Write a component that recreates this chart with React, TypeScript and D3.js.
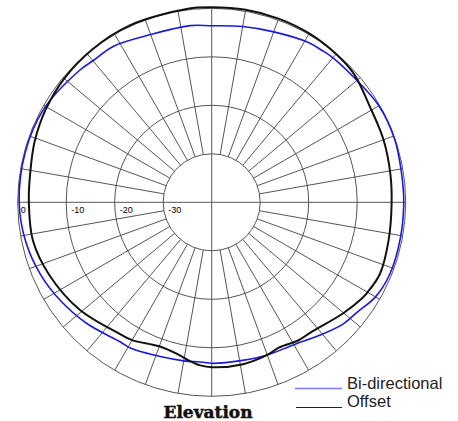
import React from 'react';
import * as d3 from 'd3';

const W = 458;
const H = 421;

// Ring levels (dB) and their labels
const ringLevels = [-30, -20, -10, 0];
const ringLabels = ['-30', '-20', '-10', '0'];

// Bi-directional series: angle (deg, clockwise from top) and level (dB)
const biAngles = [0, 10, 20, 31, 36, 40, 48, 60, 71, 81, 90, 101, 112, 120, 127, 133, 141, 150, 160, 169, 180, 184, 190, 198, 209, 213, 226, 237, 247, 258, 270, 285, 299, 315, 320, 328, 340, 353];
const biValues = [-3.6, -3.2, -2.6, -1.5, -1.3, -1.1, -1.0, -0.2, -0.1, -0.4, -0.4, -0.4, -0.4, -1.0, -2.4, -3.1, -4.7, -6.1, -6.5, -6.8, -6.8, -7.0, -6.8, -6.5, -5.6, -5.6, -4.1, -2.8, -1.7, -0.8, -0.3, -0.2, -0.4, -1.5, -1.9, -2.0, -3.2, -3.3];

// Offset series
const offAngles = [0, 10, 20, 30, 40, 48, 59, 70, 81, 90, 102, 113, 120, 123, 130, 143, 148, 155, 160, 169, 180, 184, 188, 192, 200, 210, 215, 231, 246, 258, 270, 279, 289, 299, 310, 322, 335, 353];
const offValues = [0.2, 0.3, 0.3, 0.2, -0.1, -0.5, -1.9, -2.3, -2.7, -2.9, -2.7, -2.3, -2.9, -3.3, -4.5, -6.3, -6.4, -7.0, -6.5, -6.0, -6.0, -6.3, -7.0, -7.8, -8.4, -7.2, -6.9, -4.9, -3.3, -2.3, -2.3, -2.1, -1.4, -0.8, -0.3, 0.0, 0.2, 0.2];

const seriesNames = ['Bi-directional', 'Offset'];
const title = 'Elevation';

export default function App() {
  const cx = 211.7;
  const cy = 202.3;
  const R = 194;
  const r = d3.scaleLinear().domain([-40, 0]).range([0, R]);
  const toRad = (a: number) => (a * Math.PI) / 180;

  const spokes = d3.range(0, 360, 10);
  const line = d3
    .lineRadial<{ a: number; v: number }>()
    .angle((d) => toRad(d.a))
    .radius((d) => r(d.v))
    .curve(d3.curveCatmullRomClosed.alpha(0.5));

  const biData = biAngles.map((a, i) => ({ a, v: biValues[i] }));
  const offData = offAngles.map((a, i) => ({ a, v: offValues[i] }));

  const gridColor = '#555';

  return (
    <svg
      width={W}
      height={H}
      style={{ position: 'absolute', left: 0, top: 0, background: '#fff' }}
    >
      <g transform={`translate(${cx},${cy})`}>
        {ringLevels.map((lv) => (
          <circle key={lv} r={r(lv)} fill="none" stroke={gridColor} strokeWidth={1} />
        ))}
        {spokes.map((a) => {
          const inner = a % 90 === 0 ? 0 : r(-30);
          const outer = r(0);
          const s = Math.sin(toRad(a));
          const c = Math.cos(toRad(a));
          return (
            <line
              key={a}
              x1={inner * s}
              y1={-inner * c}
              x2={outer * s}
              y2={-outer * c}
              stroke={gridColor}
              strokeWidth={1}
            />
          );
        })}
        {ringLevels.map((lv, i) => (
          <text
            key={'l' + lv}
            x={-r(lv) + (lv === 0 ? 3 : 5)}
            y={11}
            fontFamily="Liberation Sans, Arial, sans-serif"
            fontSize={9}
            fill="#000"
          >
            {ringLabels[i]}
          </text>
        ))}
        <path d={line(biData) || ''} fill="none" stroke="#1a1ad8" strokeWidth={1.6} />
        <path d={line(offData) || ''} fill="none" stroke="#111" strokeWidth={2} />
      </g>
      <line x1={295} x2={342} y1={388.5} y2={388.5} stroke="#7b7bff" strokeWidth={1.5} />
      <line x1={296} x2={342} y1={407.5} y2={407.5} stroke="#222" strokeWidth={1.2} />
      <text x={347} y={388.5} fontFamily="Liberation Sans, Arial, sans-serif" fontSize={16.5} fill="#222">
        {seriesNames[0]}
      </text>
      <text x={347} y={407} fontFamily="Liberation Sans, Arial, sans-serif" fontSize={16.5} fill="#222">
        {seriesNames[1]}
      </text>
      <text
        x={208}
        y={418}
        textAnchor="middle"
        fontFamily="DejaVu Serif, serif"
        fontWeight="bold"
        fontSize={17}
        fill="#111"
        stroke="#111"
        strokeWidth={0.5}
      >
        {title}
      </text>
    </svg>
  );
}
